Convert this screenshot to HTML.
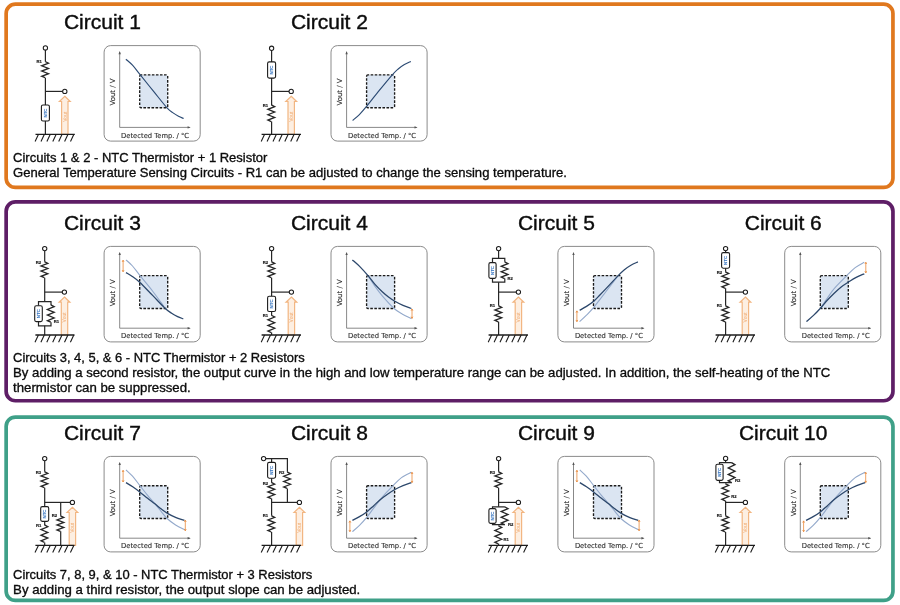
<!DOCTYPE html>
<html lang="en"><head><meta charset="utf-8"><title>NTC Thermistor Circuits</title>
<style>
html,body{margin:0;padding:0;background:#fff}
svg{display:block;will-change:transform}
text{font-family:"Liberation Sans",sans-serif}
.ti{font-size:20.2px;fill:#0c0c0c;stroke:#0c0c0c;stroke-width:0.38}
.cp{font-size:12.95px;fill:#0c0c0c;stroke:#0c0c0c;stroke-width:0.33}
.w{fill:none;stroke:#262626;stroke-width:1.2;stroke-linejoin:miter}
.z{stroke-width:1.3}
.t{fill:#fff;stroke:#1c1c1c;stroke-width:1.05}
.n{fill:#fff;stroke:#1c1c1c;stroke-width:1.1}
.nt{font-size:17.6px;font-weight:bold;fill:#3B78C2;stroke:#3B78C2;stroke-width:0.5;text-anchor:middle}
.vt{font-size:20px;fill:#F1AC74;text-anchor:middle}
.rl{font-size:16.8px;font-weight:bold;fill:#111;stroke:#111;stroke-width:0.6;text-anchor:middle}
.g{fill:none;stroke:#1c1c1c;stroke-width:1.3}
.h{fill:none;stroke:#1c1c1c;stroke-width:1.1}
.a{fill:#FDEFE2;stroke:#F2B682;stroke-width:1.2;stroke-linejoin:miter}
.cf{fill:#fff;stroke:#858585;stroke-width:0.95}
.ax{fill:none;stroke:#6a6a6a;stroke-width:0.8}
.axh{fill:#555;stroke:none}
.sh{fill:#DBE5F2;stroke:#1a1a1a;stroke-width:1.35;stroke-dasharray:2.6 1.45;stroke-dashoffset:1.3}
.c1{fill:none;stroke:#2B4A73;stroke-width:1.15}
.cd{fill:none;stroke:#2C476B;stroke-width:1.3}
.cl{fill:none;stroke:#93A9CB;stroke-width:1.1}
.oa{fill:none;stroke:#E8893A;stroke-width:0.8}
.ct{font-family:"DejaVu Sans","Liberation Sans",sans-serif;font-size:6.9px;fill:#2e2e2e;stroke:#2e2e2e;stroke-width:0.12}
.cv{font-size:6.95px}
</style></head>
<body>
<svg width="900" height="605" viewBox="0 0 900 605">
<rect width="900" height="605" fill="#fff"/>
<rect x="6.15" y="4.15" width="886.8" height="183.3" rx="9.3" fill="none" stroke="#E0781E" stroke-width="3.7"/>
<rect x="6.15" y="201.85" width="886.8" height="198.9" rx="9.3" fill="none" stroke="#5E1E66" stroke-width="3.7"/>
<rect x="6.15" y="417.05" width="886.8" height="183.4" rx="9.3" fill="none" stroke="#3FA088" stroke-width="3.7"/>
<text x="63.9" y="29" class="ti" textLength="77" lengthAdjust="spacingAndGlyphs">Circuit 1</text>
<text x="290.9" y="29" class="ti" textLength="77" lengthAdjust="spacingAndGlyphs">Circuit 2</text>
<text x="63.9" y="230" class="ti" textLength="77" lengthAdjust="spacingAndGlyphs">Circuit 3</text>
<text x="290.9" y="230" class="ti" textLength="77" lengthAdjust="spacingAndGlyphs">Circuit 4</text>
<text x="517.9" y="230" class="ti" textLength="77" lengthAdjust="spacingAndGlyphs">Circuit 5</text>
<text x="744.8" y="230" class="ti" textLength="77" lengthAdjust="spacingAndGlyphs">Circuit 6</text>
<text x="63.9" y="440.1" class="ti" textLength="77" lengthAdjust="spacingAndGlyphs">Circuit 7</text>
<text x="290.9" y="440.1" class="ti" textLength="77" lengthAdjust="spacingAndGlyphs">Circuit 8</text>
<text x="517.9" y="440.1" class="ti" textLength="77" lengthAdjust="spacingAndGlyphs">Circuit 9</text>
<text x="739" y="440.1" class="ti" textLength="88.4" lengthAdjust="spacingAndGlyphs">Circuit 10</text>
<text x="13.1" y="161.7" class="cp" textLength="254.3" lengthAdjust="spacingAndGlyphs">Circuits 1 &amp; 2 - NTC Thermistor + 1 Resistor</text>
<text x="13.1" y="176.8" class="cp" textLength="553.9" lengthAdjust="spacingAndGlyphs">General Temperature Sensing Circuits - R1 can be adjusted to change the sensing temperature.</text>
<text x="13.1" y="361.7" class="cp" textLength="291.6" lengthAdjust="spacingAndGlyphs">Circuits 3, 4, 5, &amp; 6 - NTC Thermistor + 2 Resistors</text>
<text x="13.1" y="376.7" class="cp" textLength="817.1" lengthAdjust="spacingAndGlyphs">By adding a second resistor, the output curve in the high and low temperature range can be adjusted. In addition, the self-heating of the NTC</text>
<text x="13.1" y="391.7" class="cp" textLength="177.6" lengthAdjust="spacingAndGlyphs">thermistor can be suppressed.</text>
<text x="13.1" y="578.8" class="cp" textLength="299.2" lengthAdjust="spacingAndGlyphs">Circuits 7, 8, 9, &amp; 10 - NTC Thermistor + 3 Resistors</text>
<text x="13.1" y="593.8" class="cp" textLength="347.2" lengthAdjust="spacingAndGlyphs">By adding a third resistor, the output slope can be adjusted.</text>
<g transform="translate(104.1 45.6)">
<rect x="0" y="0" width="96.1" height="95.5" rx="6.5" class="cf"/>
<path d="M15.6 6.5 V81.8 H85.5" class="ax"/><path d="M14.4 8.6 L15.6 5.5 L16.8 8.6 Z M83.5 80.6 L86.6 81.8 L83.5 83 Z" class="axh"/>
<rect x="35.6" y="29.3" width="28" height="32.8" rx="1.3" class="sh"/>
<path d="M21.8 13.6 C22.9 14.6 26 16.98 28.4 19.6 C30.8 22.22 32.68 24.93 36.2 29.3 C39.72 33.67 45.08 40.35 49.5 45.8 C53.92 51.25 59.52 58.47 62.7 62 C65.88 65.53 66.65 65.57 68.6 67 C70.55 68.43 72.58 69.62 74.4 70.6 C76.22 71.58 78.65 72.52 79.5 72.9" class="c1"/>
<text transform="translate(11.15 46.4) rotate(-90)" class="ct cv" text-anchor="middle">Vout / V</text>
<text x="17" y="92" class="ct" textLength="68" lengthAdjust="spacingAndGlyphs">Detected Temp. / °C</text>
</g>
<g transform="translate(331 45.6)">
<rect x="0" y="0" width="96.1" height="95.5" rx="6.5" class="cf"/>
<path d="M15.6 6.5 V81.8 H85.5" class="ax"/><path d="M14.4 8.6 L15.6 5.5 L16.8 8.6 Z M83.5 80.6 L86.6 81.8 L83.5 83 Z" class="axh"/>
<rect x="35.6" y="29.3" width="28" height="32.8" rx="1.3" class="sh"/>
<path d="M21.6 74.9 C22.73 73.92 26.12 71.3 28.4 69 C30.68 66.7 31.98 65.13 35.3 61.1 C38.62 57.07 43.97 50.12 48.3 44.8 C52.63 39.48 58.15 32.77 61.3 29.2 C64.45 25.63 65.18 25.1 67.2 23.4 C69.22 21.7 71.28 20.25 73.4 19 C75.52 17.75 78.82 16.42 79.9 15.9" class="c1"/>
<text transform="translate(11.15 46.4) rotate(-90)" class="ct cv" text-anchor="middle">Vout / V</text>
<text x="17" y="92" class="ct" textLength="68" lengthAdjust="spacingAndGlyphs">Detected Temp. / °C</text>
</g>
<g transform="translate(104.1 246.4)">
<rect x="0" y="0" width="96.1" height="95.5" rx="6.5" class="cf"/>
<path d="M15.6 6.5 V81.8 H85.5" class="ax"/><path d="M14.4 8.6 L15.6 5.5 L16.8 8.6 Z M83.5 80.6 L86.6 81.8 L83.5 83 Z" class="axh"/>
<rect x="35.6" y="29.3" width="28" height="32.8" rx="1.3" class="sh"/>
<path d="M21.9 13.5 C22.98 14.52 26.07 16.98 28.4 19.6 C30.73 22.22 32.57 25.03 35.9 29.2 C39.23 33.37 44.42 39.45 48.4 44.6 C52.38 49.75 57.9 57.52 59.8 60.1" class="cl"/>
<path d="M21.9 26.2 C23.02 26.88 26.32 28.7 28.6 30.3 C30.88 31.9 32.28 32.68 35.6 35.8 C38.92 38.92 44.23 44.62 48.5 49 C52.77 53.38 58.03 59.13 61.2 62.1 C64.37 65.07 65.45 65.45 67.5 66.8 C69.55 68.15 71.55 69.25 73.5 70.2 C75.45 71.15 78.25 72.12 79.2 72.5" class="cd"/>
<path d="M19 13.8 V25.4" class="oa"/><path d="M18.1 15.5 L19 13.8 L19.9 15.5 M18.1 23.7 L19 25.4 L19.9 23.7" class="oa"/>
<text transform="translate(11.15 46.4) rotate(-90)" class="ct cv" text-anchor="middle">Vout / V</text>
<text x="17" y="92" class="ct" textLength="68" lengthAdjust="spacingAndGlyphs">Detected Temp. / °C</text>
</g>
<g transform="translate(331 246.4)">
<rect x="0" y="0" width="96.1" height="95.5" rx="6.5" class="cf"/>
<path d="M15.6 6.5 V81.8 H85.5" class="ax"/><path d="M14.4 8.6 L15.6 5.5 L16.8 8.6 Z M83.5 80.6 L86.6 81.8 L83.5 83 Z" class="axh"/>
<rect x="35.6" y="29.3" width="28" height="32.8" rx="1.3" class="sh"/>
<path d="M37 29.2 C38.17 31 41.58 36.58 44 40 C46.42 43.42 48.32 46.02 51.5 49.7 C54.68 53.38 59.77 59.08 63.1 62.1 C66.43 65.12 68.62 66.1 71.5 67.8 C74.38 69.5 78.92 71.55 80.4 72.3" class="cl"/>
<path d="M21.4 13.5 C22.6 14.58 26 17.38 28.6 20 C31.2 22.62 34.43 26.2 37 29.2 C39.57 32.2 41.58 35.27 44 38 C46.42 40.73 49.25 43.5 51.5 45.6 C53.75 47.7 55.43 49.05 57.5 50.6 C59.57 52.15 61.48 53.5 63.9 54.9 C66.32 56.3 69.25 57.8 72 59 C74.75 60.2 79 61.58 80.4 62.1" class="cd"/>
<path d="M81 62.6 V72" class="oa"/><path d="M80.1 64.3 L81 62.6 L81.9 64.3 M80.1 70.3 L81 72 L81.9 70.3" class="oa"/>
<text transform="translate(11.15 46.4) rotate(-90)" class="ct cv" text-anchor="middle">Vout / V</text>
<text x="17" y="92" class="ct" textLength="68" lengthAdjust="spacingAndGlyphs">Detected Temp. / °C</text>
</g>
<g transform="translate(557.9 246.4)">
<rect x="0" y="0" width="96.1" height="95.5" rx="6.5" class="cf"/>
<path d="M15.6 6.5 V81.8 H85.5" class="ax"/><path d="M14.4 8.6 L15.6 5.5 L16.8 8.6 Z M83.5 80.6 L86.6 81.8 L83.5 83 Z" class="axh"/>
<rect x="35.6" y="29.3" width="28" height="32.8" rx="1.3" class="sh"/>
<path d="M21.7 75.2 C22.85 74.13 26.22 71.22 28.6 68.8 C30.98 66.38 32.75 64.65 36 60.7 C39.25 56.75 44.15 50.22 48.1 45.1 C52.05 39.98 57.77 32.52 59.7 30" class="cl"/>
<path d="M21.7 63.9 C22.85 63.25 26.25 61.5 28.6 60 C30.95 58.5 33.57 56.8 35.8 54.9 C38.03 53 39.95 50.72 42 48.6 C44.05 46.48 45.05 45.43 48.1 42.2 C51.15 38.97 57.23 32.35 60.3 29.2 C63.37 26.05 64.38 25.03 66.5 23.3 C68.62 21.57 70.75 20.1 73 18.8 C75.25 17.5 78.83 16.05 80 15.5" class="cd"/>
<path d="M19 64.5 V75.3" class="oa"/><path d="M18.1 66.2 L19 64.5 L19.9 66.2 M18.1 73.6 L19 75.3 L19.9 73.6" class="oa"/>
<text transform="translate(11.15 46.4) rotate(-90)" class="ct cv" text-anchor="middle">Vout / V</text>
<text x="17" y="92" class="ct" textLength="68" lengthAdjust="spacingAndGlyphs">Detected Temp. / °C</text>
</g>
<g transform="translate(784.7 246.4)">
<rect x="0" y="0" width="96.1" height="95.5" rx="6.5" class="cf"/>
<path d="M15.6 6.5 V81.8 H85.5" class="ax"/><path d="M14.4 8.6 L15.6 5.5 L16.8 8.6 Z M83.5 80.6 L86.6 81.8 L83.5 83 Z" class="axh"/>
<rect x="35.6" y="29.3" width="28" height="32.8" rx="1.3" class="sh"/>
<path d="M36.2 61.3 C37.25 59.75 40.28 55.18 42.5 52 C44.72 48.82 46.27 45.97 49.5 42.2 C52.73 38.43 58.4 32.9 61.9 29.4 C65.4 25.9 67.55 23.47 70.5 21.2 C73.45 18.93 78.08 16.7 79.6 15.8" class="cl"/>
<path d="M21.7 75.2 C22.88 74.17 26.38 71.32 28.8 69 C31.22 66.68 33.87 63.87 36.2 61.3 C38.53 58.73 40.58 56.02 42.8 53.6 C45.02 51.18 47.22 48.98 49.5 46.8 C51.78 44.62 54.08 42.38 56.5 40.5 C58.92 38.62 61.5 37.08 64 35.5 C66.5 33.92 68.9 32.35 71.5 31 C74.1 29.65 78.25 28 79.6 27.4" class="cd"/>
<path d="M81.1 15.9 V26.5" class="oa"/><path d="M80.2 17.6 L81.1 15.9 L82 17.6 M80.2 24.8 L81.1 26.5 L82 24.8" class="oa"/>
<text transform="translate(11.15 46.4) rotate(-90)" class="ct cv" text-anchor="middle">Vout / V</text>
<text x="17" y="92" class="ct" textLength="68" lengthAdjust="spacingAndGlyphs">Detected Temp. / °C</text>
</g>
<g transform="translate(104.1 456.4)">
<rect x="0" y="0" width="96.1" height="95.5" rx="6.5" class="cf"/>
<path d="M15.6 6.5 V81.8 H85.5" class="ax"/><path d="M14.4 8.6 L15.6 5.5 L16.8 8.6 Z M83.5 80.6 L86.6 81.8 L83.5 83 Z" class="axh"/>
<rect x="35.6" y="29.3" width="28" height="32.8" rx="1.3" class="sh"/>
<path d="M21.9 13.5 C22.98 14.55 26.08 17.18 28.4 19.8 C30.72 22.42 33.28 26 35.8 29.2 C38.32 32.4 41 35.97 43.5 39 C46 42.03 48.55 44.73 50.8 47.4 C53.05 50.07 54.97 52.55 57 55 C59.03 57.45 60.58 59.83 63 62.1 C65.42 64.37 68.52 66.72 71.5 68.6 C74.48 70.48 79.33 72.6 80.9 73.4" class="cl"/>
<path d="M21.9 26.2 C23.02 26.9 26.32 28.85 28.6 30.4 C30.88 31.95 33.12 33.6 35.6 35.5 C38.08 37.4 40.97 39.82 43.5 41.8 C46.03 43.78 48.5 45.58 50.8 47.4 C53.1 49.22 55.13 51.07 57.3 52.7 C59.47 54.33 61.35 55.78 63.8 57.2 C66.25 58.62 69.25 60.08 72 61.2 C74.75 62.32 78.92 63.45 80.3 63.9" class="cd"/>
<path d="M19 13.9 V25.6" class="oa"/><path d="M18.1 15.6 L19 13.9 L19.9 15.6 M18.1 23.9 L19 25.6 L19.9 23.9" class="oa"/>
<path d="M81.2 63.8 V74.4" class="oa"/><path d="M80.3 65.5 L81.2 63.8 L82.1 65.5 M80.3 72.7 L81.2 74.4 L82.1 72.7" class="oa"/>
<text transform="translate(11.15 46.4) rotate(-90)" class="ct cv" text-anchor="middle">Vout / V</text>
<text x="17" y="92" class="ct" textLength="68" lengthAdjust="spacingAndGlyphs">Detected Temp. / °C</text>
</g>
<g transform="translate(331 456.4)">
<rect x="0" y="0" width="96.1" height="95.5" rx="6.5" class="cf"/>
<path d="M15.6 6.5 V81.8 H85.5" class="ax"/><path d="M14.4 8.6 L15.6 5.5 L16.8 8.6 Z M83.5 80.6 L86.6 81.8 L83.5 83 Z" class="axh"/>
<rect x="35.6" y="29.3" width="28" height="32.8" rx="1.3" class="sh"/>
<path d="M21.4 75.2 C22.58 74.17 26.08 71.42 28.5 69 C30.92 66.58 33.57 63.53 35.9 60.7 C38.23 57.87 40.28 54.9 42.5 52 C44.72 49.1 47.03 45.97 49.2 43.3 C51.37 40.63 53.38 38.32 55.5 36 C57.62 33.68 59.4 31.87 61.9 29.4 C64.4 26.93 67.42 23.47 70.5 21.2 C73.58 18.93 78.75 16.7 80.4 15.8" class="cl"/>
<path d="M21.4 63.9 C22.58 63.28 26.12 61.6 28.5 60.2 C30.88 58.8 33.37 57.28 35.7 55.5 C38.03 53.72 40.25 51.53 42.5 49.5 C44.75 47.47 46.87 45.25 49.2 43.3 C51.53 41.35 54.05 39.5 56.5 37.8 C58.95 36.1 61.32 34.53 63.9 33.1 C66.48 31.67 69.25 30.35 72 29.2 C74.75 28.05 79 26.7 80.4 26.2" class="cd"/>
<path d="M18.9 64.5 V75.3" class="oa"/><path d="M18 66.2 L18.9 64.5 L19.8 66.2 M18 73.6 L18.9 75.3 L19.8 73.6" class="oa"/>
<path d="M81 15.9 V26.2" class="oa"/><path d="M80.1 17.6 L81 15.9 L81.9 17.6 M80.1 24.5 L81 26.2 L81.9 24.5" class="oa"/>
<text transform="translate(11.15 46.4) rotate(-90)" class="ct cv" text-anchor="middle">Vout / V</text>
<text x="17" y="92" class="ct" textLength="68" lengthAdjust="spacingAndGlyphs">Detected Temp. / °C</text>
</g>
<g transform="translate(557.9 456.4)">
<rect x="0" y="0" width="96.1" height="95.5" rx="6.5" class="cf"/>
<path d="M15.6 6.5 V81.8 H85.5" class="ax"/><path d="M14.4 8.6 L15.6 5.5 L16.8 8.6 Z M83.5 80.6 L86.6 81.8 L83.5 83 Z" class="axh"/>
<rect x="35.6" y="29.3" width="28" height="32.8" rx="1.3" class="sh"/>
<path d="M21.9 13.5 C22.98 14.55 26.08 17.18 28.4 19.8 C30.72 22.42 33.28 26 35.8 29.2 C38.32 32.4 41 35.97 43.5 39 C46 42.03 48.55 44.73 50.8 47.4 C53.05 50.07 54.97 52.55 57 55 C59.03 57.45 60.58 59.83 63 62.1 C65.42 64.37 68.52 66.72 71.5 68.6 C74.48 70.48 79.33 72.6 80.9 73.4" class="cl"/>
<path d="M21.9 26.2 C23.02 26.9 26.32 28.85 28.6 30.4 C30.88 31.95 33.12 33.6 35.6 35.5 C38.08 37.4 40.97 39.82 43.5 41.8 C46.03 43.78 48.5 45.58 50.8 47.4 C53.1 49.22 55.13 51.07 57.3 52.7 C59.47 54.33 61.35 55.78 63.8 57.2 C66.25 58.62 69.25 60.08 72 61.2 C74.75 62.32 78.92 63.45 80.3 63.9" class="cd"/>
<path d="M19 13.9 V25.6" class="oa"/><path d="M18.1 15.6 L19 13.9 L19.9 15.6 M18.1 23.9 L19 25.6 L19.9 23.9" class="oa"/>
<path d="M81.2 63.8 V74.4" class="oa"/><path d="M80.3 65.5 L81.2 63.8 L82.1 65.5 M80.3 72.7 L81.2 74.4 L82.1 72.7" class="oa"/>
<text transform="translate(11.15 46.4) rotate(-90)" class="ct cv" text-anchor="middle">Vout / V</text>
<text x="17" y="92" class="ct" textLength="68" lengthAdjust="spacingAndGlyphs">Detected Temp. / °C</text>
</g>
<g transform="translate(784.7 456.4)">
<rect x="0" y="0" width="96.1" height="95.5" rx="6.5" class="cf"/>
<path d="M15.6 6.5 V81.8 H85.5" class="ax"/><path d="M14.4 8.6 L15.6 5.5 L16.8 8.6 Z M83.5 80.6 L86.6 81.8 L83.5 83 Z" class="axh"/>
<rect x="35.6" y="29.3" width="28" height="32.8" rx="1.3" class="sh"/>
<path d="M21.4 75.2 C22.58 74.17 26.08 71.42 28.5 69 C30.92 66.58 33.57 63.53 35.9 60.7 C38.23 57.87 40.28 54.9 42.5 52 C44.72 49.1 47.03 45.97 49.2 43.3 C51.37 40.63 53.38 38.32 55.5 36 C57.62 33.68 59.4 31.87 61.9 29.4 C64.4 26.93 67.42 23.47 70.5 21.2 C73.58 18.93 78.75 16.7 80.4 15.8" class="cl"/>
<path d="M21.4 63.9 C22.58 63.28 26.12 61.6 28.5 60.2 C30.88 58.8 33.37 57.28 35.7 55.5 C38.03 53.72 40.25 51.53 42.5 49.5 C44.75 47.47 46.87 45.25 49.2 43.3 C51.53 41.35 54.05 39.5 56.5 37.8 C58.95 36.1 61.32 34.53 63.9 33.1 C66.48 31.67 69.25 30.35 72 29.2 C74.75 28.05 79 26.7 80.4 26.2" class="cd"/>
<path d="M18.9 64.5 V75.3" class="oa"/><path d="M18 66.2 L18.9 64.5 L19.8 66.2 M18 73.6 L18.9 75.3 L19.8 73.6" class="oa"/>
<path d="M81 15.9 V26.2" class="oa"/><path d="M80.1 17.6 L81 15.9 L81.9 17.6 M80.1 24.5 L81 26.2 L81.9 24.5" class="oa"/>
<text transform="translate(11.15 46.4) rotate(-90)" class="ct cv" text-anchor="middle">Vout / V</text>
<text x="17" y="92" class="ct" textLength="68" lengthAdjust="spacingAndGlyphs">Detected Temp. / °C</text>
</g>
<path d="M45.4 50 L45.4 61.5" class="w"/>
<path d="M45.1 61.5 L48.5 63.21 L41.7 65.82 L48.5 68.44 L41.7 71.05 L48.5 73.67 L41.7 76.28 L45.1 77.7" class="w z"/>
<path d="M45.4 77.7 L45.4 105" class="w"/>
<path d="M45.4 91.4 L62.7 91.4" class="w"/>
<rect x="41.4" y="105" width="8" height="16" rx="1.6" class="n"/>
<text transform="translate(46.95 113) rotate(-90) scale(0.25)" class="nt">NTC</text>
<path d="M45.4 121 L45.4 134.3" class="w"/>
<circle cx="45.4" cy="47.9" r="2.15" class="t"/>
<circle cx="64.8" cy="91.4" r="2.15" class="t"/>
<text transform="translate(39.2 63.1) scale(0.25)" class="rl">R1</text>
<path d="M64.8 96.3 L70.2 101.5 H68 V134.3 H61.6 V101.5 H59.4 Z" class="a"/>
<text transform="translate(66.5 116.7) rotate(-90) scale(0.25)" class="vt">Vout</text>
<path d="M35.5 134.3 H74.8" class="g"/>
<path d="M38.5 134.3 l-3.4 7.2 M44.4 134.3 l-3.4 7.2 M50.3 134.3 l-3.4 7.2 M56.2 134.3 l-3.4 7.2 M62.1 134.3 l-3.4 7.2 M68 134.3 l-3.4 7.2 M73.9 134.3 l-3.4 7.2 " class="h"/>
<path d="M271.6 50.4 L271.6 61.9" class="w"/>
<rect x="267.6" y="61.9" width="8" height="16.2" rx="1.6" class="n"/>
<text transform="translate(273.15 70) rotate(-90) scale(0.25)" class="nt">NTC</text>
<path d="M271.6 78.1 L271.6 104.9" class="w"/>
<path d="M271.6 91.4 L289.1 91.4" class="w"/>
<path d="M271.3 104.9 L274.7 106.66 L267.9 109.36 L274.7 112.05 L267.9 114.75 L274.7 117.45 L267.9 120.14 L271.3 121.6" class="w z"/>
<path d="M271.6 121.6 L271.6 134.3" class="w"/>
<circle cx="271.6" cy="48.3" r="2.15" class="t"/>
<circle cx="291.2" cy="91.4" r="2.15" class="t"/>
<text transform="translate(265.4 106.5) scale(0.25)" class="rl">R1</text>
<path d="M291.2 96.3 L296.6 101.5 H294.4 V134.3 H288 V101.5 H285.8 Z" class="a"/>
<text transform="translate(292.9 116.7) rotate(-90) scale(0.25)" class="vt">Vout</text>
<path d="M261.6 134.3 H301" class="g"/>
<path d="M264.6 134.3 l-3.4 7.2 M270.5 134.3 l-3.4 7.2 M276.4 134.3 l-3.4 7.2 M282.3 134.3 l-3.4 7.2 M288.2 134.3 l-3.4 7.2 M294.1 134.3 l-3.4 7.2 M300 134.3 l-3.4 7.2 " class="h"/>
<path d="M44.7 250.7 L44.7 261.6" class="w"/>
<path d="M44.4 261.6 L47.8 263.3 L41 265.9 L47.8 268.5 L41 271.1 L47.8 273.69 L41 276.29 L44.4 277.7" class="w z"/>
<path d="M44.7 277.7 L44.7 301.7" class="w"/>
<path d="M44.7 292.1 L62.3 292.1" class="w"/>
<path d="M38.5 305.8 L38.5 301.7 L51 301.7 L51 304.9" class="w"/>
<path d="M38.5 321.6 L38.5 325.8 L51 325.8 L51 322.2" class="w"/>
<rect x="34.7" y="305.8" width="7.6" height="15.8" rx="1.6" class="n"/>
<text transform="translate(40.05 313.7) rotate(-90) scale(0.25)" class="nt">NTC</text>
<path d="M50.8 304.9 L54.2 306.72 L47.4 309.52 L54.2 312.31 L47.4 315.1 L54.2 317.9 L47.4 320.69 L50.8 322.2" class="w z"/>
<path d="M44.7 325.8 L44.7 335" class="w"/>
<circle cx="44.7" cy="248.6" r="2.15" class="t"/>
<circle cx="64.4" cy="292.1" r="2.15" class="t"/>
<text transform="translate(38.3 263.7) scale(0.25)" class="rl">R2</text>
<text transform="translate(56.5 323.1) scale(0.25)" class="rl">R1</text>
<path d="M64.5 297 L69.9 302.2 H67.7 V335 H61.3 V302.2 H59.1 Z" class="a"/>
<text transform="translate(66.2 317.4) rotate(-90) scale(0.25)" class="vt">Vout</text>
<path d="M35.4 335 H74.5" class="g"/>
<path d="M38.4 335 l-3.4 7.2 M44.3 335 l-3.4 7.2 M50.2 335 l-3.4 7.2 M56.1 335 l-3.4 7.2 M62 335 l-3.4 7.2 M67.9 335 l-3.4 7.2 M73.8 335 l-3.4 7.2 " class="h"/>
<path d="M271.6 250.7 L271.6 261.6" class="w"/>
<path d="M271.3 261.6 L274.7 263.3 L267.9 265.9 L274.7 268.5 L267.9 271.1 L274.7 273.69 L267.9 276.29 L271.3 277.7" class="w z"/>
<path d="M271.6 277.7 L271.6 296.3" class="w"/>
<path d="M271.6 292.1 L289.3 292.1" class="w"/>
<rect x="267.6" y="296.3" width="8" height="15.2" rx="1.6" class="n"/>
<text transform="translate(273.15 303.9) rotate(-90) scale(0.25)" class="nt">NTC</text>
<path d="M271.6 311.5 L271.6 315.2" class="w"/>
<path d="M271.3 315.2 L274.7 317.03 L267.9 319.84 L274.7 322.65 L267.9 325.46 L274.7 328.27 L267.9 331.08 L271.3 332.6" class="w z"/>
<path d="M271.6 332.6 L271.6 335" class="w"/>
<circle cx="271.6" cy="248.6" r="2.15" class="t"/>
<circle cx="291.4" cy="292.1" r="2.15" class="t"/>
<text transform="translate(265.4 263.7) scale(0.25)" class="rl">R2</text>
<text transform="translate(265.4 316.9) scale(0.25)" class="rl">R1</text>
<path d="M291.4 297 L296.8 302.2 H294.6 V335 H288.2 V302.2 H286 Z" class="a"/>
<text transform="translate(293.1 317.4) rotate(-90) scale(0.25)" class="vt">Vout</text>
<path d="M261.6 335 H301" class="g"/>
<path d="M264.6 335 l-3.4 7.2 M270.5 335 l-3.4 7.2 M276.4 335 l-3.4 7.2 M282.3 335 l-3.4 7.2 M288.2 335 l-3.4 7.2 M294.1 335 l-3.4 7.2 M300 335 l-3.4 7.2 " class="h"/>
<path d="M498.6 250.7 L498.6 258.4" class="w"/>
<path d="M492.5 262.6 L492.5 258.4 L504.8 258.4 L504.8 261.8" class="w"/>
<path d="M492.5 278.4 L492.5 282.2 L504.8 282.2 L504.8 278.6" class="w"/>
<rect x="488.9" y="262.6" width="7.2" height="15.8" rx="1.6" class="n"/>
<text transform="translate(494.05 270.5) rotate(-90) scale(0.25)" class="nt">NTC</text>
<path d="M504.6 261.8 L508 263.57 L501.2 266.28 L508 269 L501.2 271.71 L508 274.42 L501.2 277.13 L504.6 278.6" class="w z"/>
<path d="M498.6 282.2 L498.6 305.6" class="w"/>
<path d="M498.6 292.1 L516.3 292.1" class="w"/>
<path d="M498.3 305.6 L501.7 307.31 L494.9 309.92 L501.7 312.54 L494.9 315.15 L501.7 317.77 L494.9 320.38 L498.3 321.8" class="w z"/>
<path d="M498.6 321.8 L498.6 335" class="w"/>
<circle cx="498.6" cy="248.6" r="2.15" class="t"/>
<circle cx="518.4" cy="292.1" r="2.15" class="t"/>
<text transform="translate(510.2 279.5) scale(0.25)" class="rl">R2</text>
<text transform="translate(492.4 307.1) scale(0.25)" class="rl">R1</text>
<path d="M518.4 297 L523.8 302.2 H521.6 V335 H515.2 V302.2 H513 Z" class="a"/>
<text transform="translate(520.1 317.4) rotate(-90) scale(0.25)" class="vt">Vout</text>
<path d="M488.6 335 H528" class="g"/>
<path d="M491.6 335 l-3.4 7.2 M497.5 335 l-3.4 7.2 M503.4 335 l-3.4 7.2 M509.3 335 l-3.4 7.2 M515.2 335 l-3.4 7.2 M521.1 335 l-3.4 7.2 M527 335 l-3.4 7.2 " class="h"/>
<rect x="721.6" y="252.6" width="8" height="15.6" rx="1.6" class="n"/>
<text transform="translate(727.15 260.4) rotate(-90) scale(0.25)" class="nt">NTC</text>
<path d="M725.6 250.6 L725.6 252.6" class="w"/>
<path d="M725.6 268.2 L725.6 271.8" class="w"/>
<path d="M725.3 271.8 L728.7 273.54 L721.9 276.2 L728.7 278.87 L721.9 281.53 L728.7 284.19 L721.9 286.86 L725.3 288.3" class="w z"/>
<path d="M725.6 288.3 L725.6 305.6" class="w"/>
<path d="M725.6 292.1 L743.3 292.1" class="w"/>
<path d="M725.3 305.6 L728.7 307.31 L721.9 309.92 L728.7 312.54 L721.9 315.15 L728.7 317.77 L721.9 320.38 L725.3 321.8" class="w z"/>
<path d="M725.6 321.8 L725.6 335" class="w"/>
<circle cx="725.6" cy="248.6" r="2.15" class="t"/>
<circle cx="745.4" cy="292.1" r="2.15" class="t"/>
<text transform="translate(719.4 273.9) scale(0.25)" class="rl">R2</text>
<text transform="translate(719.4 307.1) scale(0.25)" class="rl">R1</text>
<path d="M745.4 297 L750.8 302.2 H748.6 V335 H742.2 V302.2 H740 Z" class="a"/>
<text transform="translate(747.1 317.4) rotate(-90) scale(0.25)" class="vt">Vout</text>
<path d="M715.6 335 H755" class="g"/>
<path d="M718.6 335 l-3.4 7.2 M724.5 335 l-3.4 7.2 M730.4 335 l-3.4 7.2 M736.3 335 l-3.4 7.2 M742.2 335 l-3.4 7.2 M748.1 335 l-3.4 7.2 M754 335 l-3.4 7.2 " class="h"/>
<path d="M44.7 460.7 L44.7 471.6" class="w"/>
<path d="M44.4 471.6 L47.8 473.3 L41 475.9 L47.8 478.5 L41 481.1 L47.8 483.69 L41 486.29 L44.4 487.7" class="w z"/>
<path d="M44.7 487.7 L44.7 506.6" class="w"/>
<path d="M44.7 502.4 L70.3 502.4" class="w"/>
<rect x="40.7" y="506.6" width="8" height="14.8" rx="1.6" class="n"/>
<text transform="translate(46.25 514) rotate(-90) scale(0.25)" class="nt">NTC</text>
<path d="M44.7 521.4 L44.7 524.9" class="w"/>
<path d="M44.4 524.9 L47.8 526.74 L41 529.57 L47.8 532.4 L41 535.22 L47.8 538.05 L41 540.87 L44.4 542.4" class="w z"/>
<path d="M44.7 542.4 L44.7 545.4" class="w"/>
<path d="M60.7 502.4 L60.7 515.8" class="w"/>
<path d="M60.4 515.8 L63.8 517.43 L57 519.94 L63.8 522.44 L57 524.94 L63.8 527.44 L57 529.95 L60.4 531.3" class="w z"/>
<path d="M60.7 531.3 L60.7 545.4" class="w"/>
<circle cx="44.7" cy="458.6" r="2.15" class="t"/>
<circle cx="72.4" cy="502.4" r="2.15" class="t"/>
<text transform="translate(38.5 473.9) scale(0.25)" class="rl">R3</text>
<text transform="translate(38.7 526.5) scale(0.25)" class="rl">R1</text>
<text transform="translate(54.5 517) scale(0.25)" class="rl">R2</text>
<path d="M72.4 507.3 L77.8 512.5 H75.6 V545.4 H69.2 V512.5 H67 Z" class="a"/>
<text transform="translate(74.1 527.8) rotate(-90) scale(0.25)" class="vt">Vout</text>
<path d="M35.4 545.4 H74.5" class="g"/>
<path d="M38.4 545.4 l-3.4 7.2 M44.3 545.4 l-3.4 7.2 M50.2 545.4 l-3.4 7.2 M56.1 545.4 l-3.4 7.2 M62 545.4 l-3.4 7.2 M67.9 545.4 l-3.4 7.2 M73.8 545.4 l-3.4 7.2 " class="h"/>
<path d="M265.7 458.6 L287.4 458.6 L287.4 471.8" class="w"/>
<path d="M271.6 458.6 L271.6 462.4" class="w"/>
<rect x="267.6" y="462.4" width="8" height="15.8" rx="1.6" class="n"/>
<text transform="translate(273.15 470.3) rotate(-90) scale(0.25)" class="nt">NTC</text>
<path d="M271.6 478.2 L271.6 482.4" class="w"/>
<path d="M271.3 482.4 L274.7 484.11 L267.9 486.72 L274.7 489.34 L267.9 491.95 L274.7 494.57 L267.9 497.18 L271.3 498.6" class="w z"/>
<path d="M287.1 471.8 L290.5 473.55 L283.7 476.23 L290.5 478.91 L283.7 481.59 L290.5 484.27 L283.7 486.95 L287.1 488.4" class="w z"/>
<path d="M287.4 488.4 L287.4 502.4" class="w"/>
<path d="M271.6 498.6 L271.6 515.6" class="w"/>
<path d="M271.6 502.4 L297.3 502.4" class="w"/>
<path d="M271.3 515.6 L274.7 517.33 L267.9 519.98 L274.7 522.62 L267.9 525.27 L274.7 527.92 L267.9 530.57 L271.3 532" class="w z"/>
<path d="M271.6 532 L271.6 545.4" class="w"/>
<circle cx="263.6" cy="458.6" r="2.15" class="t"/>
<circle cx="299.4" cy="502.4" r="2.15" class="t"/>
<text transform="translate(265.4 484.7) scale(0.25)" class="rl">R2</text>
<text transform="translate(281.6 474.1) scale(0.25)" class="rl">R3</text>
<text transform="translate(265.4 517.1) scale(0.25)" class="rl">R1</text>
<path d="M299.4 507.3 L304.8 512.5 H302.6 V545.4 H296.2 V512.5 H294 Z" class="a"/>
<text transform="translate(301.1 527.8) rotate(-90) scale(0.25)" class="vt">Vout</text>
<path d="M261.6 545.4 H301" class="g"/>
<path d="M264.6 545.4 l-3.4 7.2 M270.5 545.4 l-3.4 7.2 M276.4 545.4 l-3.4 7.2 M282.3 545.4 l-3.4 7.2 M288.2 545.4 l-3.4 7.2 M294.1 545.4 l-3.4 7.2 M300 545.4 l-3.4 7.2 " class="h"/>
<path d="M498.6 460.7 L498.6 471.6" class="w"/>
<path d="M498.3 471.6 L501.7 473.3 L494.9 475.9 L501.7 478.5 L494.9 481.1 L501.7 483.69 L494.9 486.29 L498.3 487.7" class="w z"/>
<path d="M498.6 487.7 L498.6 506.8" class="w"/>
<path d="M498.6 502.4 L516.3 502.4" class="w"/>
<path d="M492.5 508.6 L492.5 506.8 L504.8 506.8" class="w"/>
<path d="M492.5 523.2 L492.5 524.6 L504.8 524.6" class="w"/>
<rect x="488.9" y="508.6" width="7.2" height="14.8" rx="1.6" class="n"/>
<text transform="translate(494.05 516) rotate(-90) scale(0.25)" class="nt">NTC</text>
<path d="M504.6 506.8 L508 508.68 L501.2 511.55 L508 514.42 L501.2 517.3 L508 520.17 L501.2 523.05 L504.6 524.6" class="w z"/>
<path d="M498.3 525.6 L501.7 527.52 L494.9 530.46 L501.7 533.4 L494.9 536.33 L501.7 539.27 L494.9 542.21 L498.3 543.8" class="w z"/>
<path d="M498.6 543.8 L498.6 545.4" class="w"/>
<circle cx="498.6" cy="458.6" r="2.15" class="t"/>
<circle cx="518.4" cy="502.4" r="2.15" class="t"/>
<text transform="translate(492.4 473.9) scale(0.25)" class="rl">R3</text>
<text transform="translate(510.6 525.5) scale(0.25)" class="rl">R2</text>
<text transform="translate(506.1 541.2) scale(0.25)" class="rl">R1</text>
<path d="M518.4 507.3 L523.8 512.5 H521.6 V545.4 H515.2 V512.5 H513 Z" class="a"/>
<text transform="translate(520.1 527.8) rotate(-90) scale(0.25)" class="vt">Vout</text>
<path d="M488.6 545.4 H528" class="g"/>
<path d="M491.6 545.4 l-3.4 7.2 M497.5 545.4 l-3.4 7.2 M503.4 545.4 l-3.4 7.2 M509.3 545.4 l-3.4 7.2 M515.2 545.4 l-3.4 7.2 M521.1 545.4 l-3.4 7.2 M527 545.4 l-3.4 7.2 " class="h"/>
<path d="M725.6 460.4 L725.6 462.6" class="w"/>
<path d="M719.5 464.2 L719.5 462.6 L731.8 462.6" class="w"/>
<path d="M719.5 480.4 L719.5 482.6 L731.8 482.6" class="w"/>
<rect x="715.9" y="464.2" width="7.2" height="16.2" rx="1.6" class="n"/>
<text transform="translate(721.05 472.3) rotate(-90) scale(0.25)" class="nt">NTC</text>
<path d="M731.6 462.6 L735 464.71 L728.2 467.94 L735 471.17 L728.2 474.4 L735 477.62 L728.2 480.85 L731.6 482.6" class="w z"/>
<path d="M725.3 483.6 L728.7 485.41 L721.9 488.19 L728.7 490.97 L721.9 493.74 L728.7 496.52 L721.9 499.3 L725.3 500.8" class="w z"/>
<path d="M725.6 500.8 L725.6 515.6" class="w"/>
<path d="M725.6 502.4 L743.3 502.4" class="w"/>
<path d="M725.3 515.6 L728.7 517.33 L721.9 519.98 L728.7 522.62 L721.9 525.27 L728.7 527.92 L721.9 530.57 L725.3 532" class="w z"/>
<path d="M725.6 532 L725.6 545.4" class="w"/>
<circle cx="725.6" cy="458.4" r="2.15" class="t"/>
<circle cx="745.4" cy="502.4" r="2.15" class="t"/>
<text transform="translate(737.6 482.3) scale(0.25)" class="rl">R3</text>
<text transform="translate(734 498.3) scale(0.25)" class="rl">R2</text>
<text transform="translate(719.4 516.9) scale(0.25)" class="rl">R1</text>
<path d="M745.4 507.3 L750.8 512.5 H748.6 V545.4 H742.2 V512.5 H740 Z" class="a"/>
<text transform="translate(747.1 527.8) rotate(-90) scale(0.25)" class="vt">Vout</text>
<path d="M715.6 545.4 H755" class="g"/>
<path d="M718.6 545.4 l-3.4 7.2 M724.5 545.4 l-3.4 7.2 M730.4 545.4 l-3.4 7.2 M736.3 545.4 l-3.4 7.2 M742.2 545.4 l-3.4 7.2 M748.1 545.4 l-3.4 7.2 M754 545.4 l-3.4 7.2 " class="h"/>
</svg>
</body></html>
